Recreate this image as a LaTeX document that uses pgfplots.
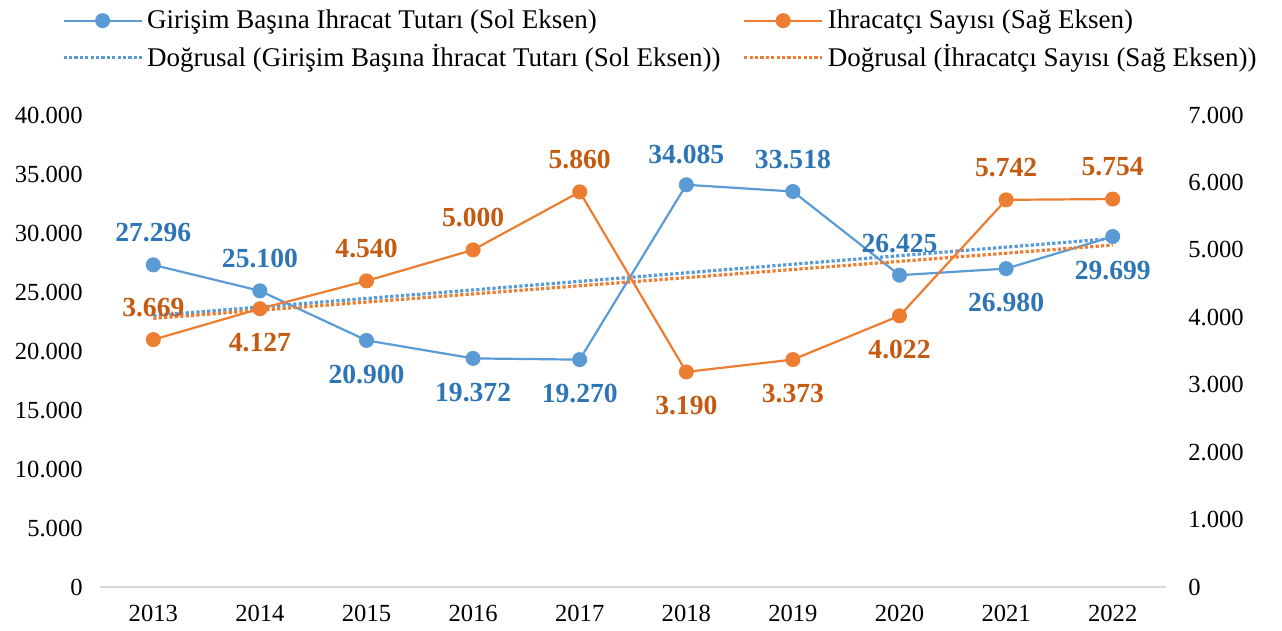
\documentclass[border=0pt]{standalone}
\usepackage{fontspec}
\setmainfont{Liberation Serif}
\usepackage{pgfplots}
\usepackage{pgfplotstable}
\pgfplotsset{compat=1.18}

\definecolor{serblue}{RGB}{91,155,213}
\definecolor{serorange}{RGB}{237,125,49}
\definecolor{labblue}{RGB}{46,117,182}
\definecolor{laborange}{RGB}{197,90,17}
\definecolor{axgray}{RGB}{217,217,217}

% x: 0 = 2013 ... 9 = 2022; off = label shift in bp
\pgfplotstableread{
x y off
0 27296 16
1 25100 16
2 20900 -17
3 19372 -17
4 19270 -17
5 34085 15
6 33518 16
7 26425 16
8 26980 -17
9 29699 -17
}\girisim

\pgfplotstableread{
x y off
0 3669 16
1 4127 -17
2 4540 16
3 5000 16
4 5860 16
5 3190 -17
6 3373 -17
7 4022 -17
8 5742 16
9 5754 16
}\ihracatci

\pgfplotsset{
  base/.style={
    at={(50bp,22bp)}, anchor=south west,
    scale only axis, width=533bp, height=236bp,
    xmin=-0.5, xmax=9.5,
    xtick={0,...,9},
    xticklabels={2013,2014,2015,2016,2017,2018,2019,2020,2021,2022},
    major tick length=0pt,
    scaled y ticks=false,
    tick label style={font=\fontsize{12.3bp}{14bp}\selectfont, inner sep=0pt},
    /pgf/number format/1000 sep={.},
    /pgf/number format/assume math mode=true,
    y axis line style={draw=none},
    clip=false,
  },
  lab/.style={
    nodes near coords,
    visualization depends on={\thisrow{off} \as \off},
    nodes near coords style={font=\fontsize{13.8bp}{16bp}\selectfont\bfseries,
      text=#1, anchor=center, yshift=\off*1bp},
  },
  sline/.style={color=#1, line width=1.1bp, mark=*, mark size=3.2bp,
    mark options={fill=#1, draw=#1}},
  trend/.style={color=#1, line width=1.6bp, dash pattern=on 1.6bp off 1.1bp},
}

\begin{document}
\begin{tikzpicture}
\useasboundingbox (0,0) rectangle (641bp,315.5bp);

\begin{axis}[base,
  ymin=0, ymax=40000,
  ytick={0,5000,...,40000},
  axis x line*=bottom, axis y line*=left,
  x axis line style={-, draw=axgray, line width=0.8bp},
  xticklabel style={yshift=-9bp},
  yticklabel style={xshift=-8.5bp},
]
\addplot[sline=serblue, lab=labblue] table[x=x, y=y] {\girisim};
\addplot[trend=serblue] coordinates {(0,23000.9) (9,29528.1)};
\end{axis}

\begin{axis}[base,
  ymin=0, ymax=7000,
  ytick={0,1000,...,7000},
  axis x line=none, axis y line*=right,
  yticklabel style={xshift=11bp},
  legend columns=2,
  legend cell align=left,
  legend image code/.code={\draw[mark repeat=2,mark phase=2,#1]
    plot coordinates {(0bp,0bp) (19.5bp,0bp) (39bp,0bp)};},
  legend style={draw=none, fill=none, inner sep=0pt,
    at={(-0.036,1.228)}, anchor=north west,
    font=\fontsize{13.5bp}{16bp}\selectfont,
    row sep=4.5bp,
    nodes={inner xsep=2bp, inner ysep=1bp},
    /tikz/every even column/.append style={column sep=9bp}},
]
\addlegendimage{sline=serblue}
\addlegendentry{Girişim Başına Ihracat Tutarı (Sol Eksen)}
\addplot[sline=serorange, lab=laborange] table[x=x, y=y] {\ihracatci};
\addlegendentry{Ihracatçı Sayısı (Sağ Eksen)}
\addlegendimage{trend=serblue}
\addlegendentry{Doğrusal (Girişim Başına İhracat Tutarı (Sol Eksen))}
\addplot[trend=serorange] coordinates {(0,3984.2) (9,5071.2)};
\addlegendentry{Doğrusal (İhracatçı Sayısı (Sağ Eksen))}
\end{axis}
\end{tikzpicture}
\end{document}
